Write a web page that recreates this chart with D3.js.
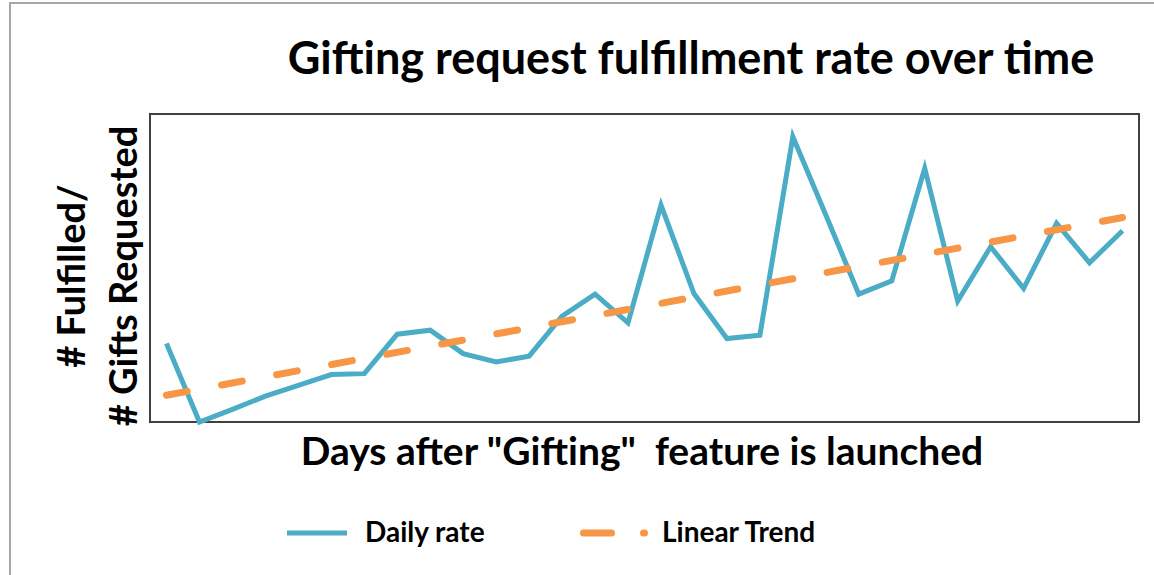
<!DOCTYPE html>
<html>
<head>
<meta charset="utf-8">
<script src="https://cdn.jsdelivr.net/npm/d3@7"></script>
<style>
body{margin:0;background:#fff;}
text{font-family:Lato,'Open Sans',sans-serif;font-weight:700;fill:#000;}
</style>
</head>
<body>
<svg id="chart" width="1154" height="575"></svg>
<script>
// ----------DATA--------------------
var days = d3.range(1,31);

var dailyRate = [25.5,0,4.1,8.4,11.9,15.4,15.7,28.5,29.8,22.2,
19.5,21.4,34.4,41.5,32.2,70.4,41.7,27.1,28.2,92.6,
67.2,41.5,45.8,82.4,39.3,56.9,43.4,64.5,51.7,62.1];

// trend read at first and last day
var trendDays = [1,30];
var trendValues = [8.7,66.4];

var seriesNames = ['Daily rate','Linear Trend'];

var blue = '#4BACC6';
var orange = '#F79646';

// ----------LAYOUT--------------------
var width = 1154;
height = 575;
var plot = {left:150, top:114, right:1139, bottom:422};

var svg = d3.select('#chart');

svg.append('rect')
.attr('width',width)
.attr('height',height)
.attr('fill','#fff');

// outer frame (top + left only visible)
svg.append('path')
.attr('d','M10,575 V3 H1154')
.attr('fill','none')
.attr('stroke','#a6a6a6')
.attr('stroke-width',2);

var xScale = d3.scalePoint()
.domain(days)
.range([plot.left,plot.right])
.padding(0.5);

var yScale = d3.scaleLinear()
.domain([0,100])
.range([plot.bottom,plot.top]);

// plot frame
svg.append('rect')
.attr('x',plot.left)
.attr('y',plot.top)
.attr('width',plot.right-plot.left)
.attr('height',plot.bottom-plot.top)
.attr('fill','none')
.attr('stroke','#404040')
.attr('stroke-width',2);

var lineGen = d3.line()
.x((d)=>xScale(d[0]))
.y((d)=>yScale(d[1]));

svg.append('path')
.datum(d3.zip(days,dailyRate))
.attr('d',lineGen)
.attr('fill','none')
.attr('stroke',blue)
.attr('stroke-width',5)
.attr('stroke-linejoin','miter');

svg.append('path')
.datum(d3.zip(trendDays,trendValues))
.attr('d',lineGen)
.attr('fill','none')
.attr('stroke',orange)
.attr('stroke-width',7)
.attr('stroke-linecap','round')
.attr('stroke-dasharray','21,35');

// ----------TEXTS--------------------
svg.append('text')
.text('Gifting request fulfillment rate over time')
.attr('x',691)
.attr('y',74)
.attr('text-anchor','middle')
.style('font-size','45px');

svg.append('text')
.text('Days after "Gifting"  feature is launched')
.attr('x',642)
.attr('y',465)
.attr('text-anchor','middle')
.style('white-space','pre')
.style('font-size','39px');

var yLabel = svg.append('text')
.attr('transform','translate(0,276) rotate(-90)')
.attr('text-anchor','middle')
.style('font-size','38px');

yLabel.append('tspan')
.attr('x',0)
.attr('y',85)
.text('# Fulfilled/');

yLabel.append('tspan')
.attr('x',0)
.attr('y',137)
.text('# Gifts Requested');

// ----------LEGEND--------------------
var legend = svg.append('g');

legend.append('line')
.attr('x1',287)
.attr('x2',347)
.attr('y1',533)
.attr('y2',533)
.attr('stroke',blue)
.attr('stroke-width',5);

legend.append('line')
.attr('x1',583.5)
.attr('x2',644.5)
.attr('y1',533)
.attr('y2',533)
.attr('stroke',orange)
.attr('stroke-width',7)
.attr('stroke-linecap','round')
.attr('stroke-dasharray','28,32');

legend.selectAll('.legend-label')
.data(seriesNames)
.enter()
.append('text')
.attr('class','legend-label')
.attr('x',(d,i)=>i==0?365:662)
.attr('y',542)
.style('font-size','28px')
.text((d)=>d);
</script>
</body>
</html>
